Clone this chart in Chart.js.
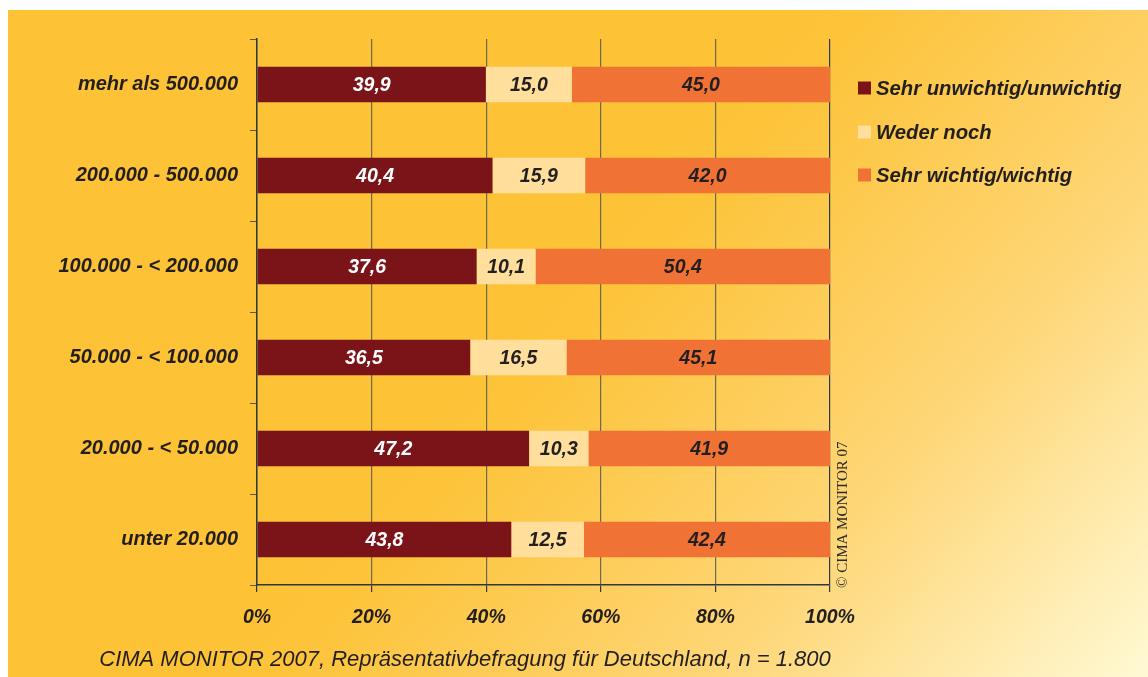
<!DOCTYPE html>
<html lang="de">
<head>
<meta charset="utf-8">
<title>CIMA MONITOR 2007</title>
<script src="https://cdn.jsdelivr.net/npm/chart.js@4/dist/chart.umd.min.js"></script>
<style>
  html, body { margin: 0; padding: 0; background: #fff; }
  #grafik { display: block; }
</style>
</head>
<body>
<canvas id="grafik" width="1148" height="677"></canvas>
<script>
// Daten
const kategorien = ['mehr als 500.000', '200.000 - 500.000', '100.000 - < 200.000', '50.000 - < 100.000', '20.000 - < 50.000', 'unter 20.000']
const unwichtig = [39.9, 40.4, 37.6, 36.5, 47.2, 43.8]
const wederNoch = [15.0, 15.9, 10.1, 16.5, 10.3, 12.5]
const wichtig = [45.0, 42.0, 50.4, 45.1, 41.9, 42.4]
const serienNamen = ['Sehr unwichtig/unwichtig', 'Weder noch', 'Sehr wichtig/wichtig']
const xTicks = [0, 20, 40, 60, 80, 100]

const farben = ['#7a1418', '#ffdf9b', '#f07335']
const labelFarben = ['#ffffff', '#231f20', '#231f20']
const textFarbe = '#231f20'
const achsenFarbe = '#2d3a44'
const gitterFarbe = '#6b6a4e'

// Balken werden auf 100 % normiert, Beschriftung zeigt die Originalwerte
const rohwerte = [unwichtig, wederNoch, wichtig]
const summen = kategorien.map((k, i) => unwichtig[i] + wederNoch[i] + wichtig[i])
const normiert = rohwerte.map(reihe => reihe.map((v, i) => v / summen[i] * 100))

const ctx = document.getElementById('grafik')

const hintergrund = {
    id: 'hintergrund',
    beforeDraw(chart) {
        const c = chart.ctx
        c.save()
        c.fillStyle = '#ffffff'
        c.fillRect(0, 0, chart.width, chart.height)
        const g = c.createLinearGradient(600, 190, 1148, 677)
        g.addColorStop(0, '#fdc235')
        g.addColorStop(0.12, '#fdc43b')
        g.addColorStop(0.55, '#fed676')
        g.addColorStop(1, '#fff9d4')
        c.fillStyle = g
        c.fillRect(8, 10, chart.width - 8, chart.height - 10)
        c.restore()
    }
}

const werteBeschriftung = {
    id: 'werteBeschriftung',
    afterDatasetsDraw(chart) {
        const c = chart.ctx
        c.save()
        c.font = 'italic bold 19.5px "Liberation Sans", Arial, sans-serif'
        c.textAlign = 'center'
        c.textBaseline = 'middle'
        chart.data.datasets.forEach((ds, d) => {
            chart.getDatasetMeta(d).data.forEach((el, i) => {
                const x = (el.x + el.base) / 2
                c.fillStyle = labelFarben[d]
                c.fillText(rohwerte[d][i].toFixed(1).replace('.', ','), x, el.y + 1)
            })
        })
        c.restore()
    }
}

const zusatz = {
    id: 'zusatz',
    afterDraw(chart) {
        const c = chart.ctx
        c.save()
        // Legende
        const legendeY = [88, 132, 175]
        c.font = 'italic bold 20.3px "Liberation Sans", Arial, sans-serif'
        c.textBaseline = 'middle'
        c.textAlign = 'left'
        chart.data.datasets.forEach((ds, d) => {
            c.fillStyle = ds.backgroundColor
            c.fillRect(858, legendeY[d] - 6.5, 13, 13)
            c.fillStyle = textFarbe
            c.fillText(ds.label, 876, legendeY[d] + 1)
        })
        // Quelle
        c.font = 'italic 22px "Liberation Sans", Arial, sans-serif'
        c.textAlign = 'center'
        c.fillText('CIMA MONITOR 2007, Repräsentativbefragung für Deutschland, n = 1.800', 465, 660)
        // Copyright senkrecht
        c.translate(843, 588)
        c.rotate(-Math.PI / 2)
        c.font = '15px "Liberation Serif", "Times New Roman", serif'
        c.textAlign = 'left'
        c.fillStyle = '#2b2b2b'
        c.fillText('© CIMA MONITOR 07', 0, 0)
        c.restore()
    }
}

const grafik = new Chart(ctx, {
    type: 'bar',
    data: {
        labels: kategorien,
        datasets: serienNamen.map((name, d) => ({
            label: name,
            data: normiert[d],
            backgroundColor: farben[d],
            borderWidth: 0,
            barPercentage: 0.39,
            categoryPercentage: 1
        }))
    },
    options: {
        indexAxis: 'y',
        responsive: false,
        animation: false,
        layout: { padding: { left: 0, right: 318, top: 39, bottom: 0 } },
        plugins: {
            legend: { display: false },
            tooltip: { enabled: false }
        },
        scales: {
            x: {
                stacked: true,
                min: 0,
                max: 100,
                afterFit: scale => { scale.height = 92 },
                afterBuildTicks: scale => { scale.ticks = xTicks.map(v => ({ value: v })) },
                ticks: {
                    callback: v => v + '%',
                    color: textFarbe,
                    font: { family: '"Liberation Sans", Arial, sans-serif', size: 19.5, style: 'italic', weight: 'bold' },
                    padding: 14,
                    maxRotation: 0
                },
                grid: {
                    color: c => c.tick && c.tick.value === 100 ? achsenFarbe : gitterFarbe,
                    tickColor: achsenFarbe,
                    tickLength: 7,
                    lineWidth: 1.2
                },
                border: { display: true, color: achsenFarbe, width: 1.5 }
            },
            y: {
                stacked: true,
                afterFit: scale => { scale.width = 257 },
                ticks: {
                    color: textFarbe,
                    font: { family: '"Liberation Sans", Arial, sans-serif', size: 20, style: 'italic', weight: 'bold' },
                    padding: 12
                },
                grid: {
                    drawOnChartArea: false,
                    drawTicks: true,
                    tickLength: 7,
                    offset: true,
                    color: achsenFarbe,
                    tickColor: '#5a5a50'
                },
                border: { display: true, color: achsenFarbe, width: 1.5 }
            }
        }
    },
    plugins: [hintergrund, werteBeschriftung, zusatz]
})
</script>
</body>
</html>
